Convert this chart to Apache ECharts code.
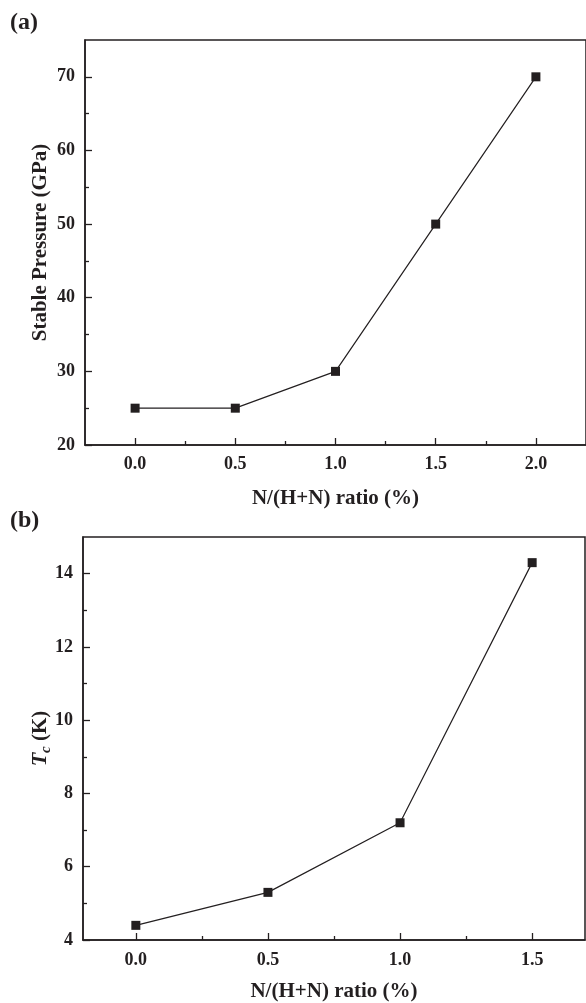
<!DOCTYPE html>
<html>
<head>
<meta charset="utf-8">
<script src="https://cdn.jsdelivr.net/npm/echarts@6/dist/echarts.min.js"></script>
<style>
html,body{margin:0;padding:0;background:#fff;}
#c{width:586px;height:1003px;}
</style>
</head>
<body>
<div id="c"></div>
<script>
// Panel (a) data
const ratioA = [0.0, 0.5, 1.0, 1.5, 2.0];
const pressureA = [25, 25, 30, 50, 70];
// Panel (b) data
const ratioB = [0.0, 0.5, 1.0, 1.5];
const tcB = [4.4, 5.3, 7.2, 14.3];

// Tick values
const xTicksA = [0.0, 0.5, 1.0, 1.5, 2.0];
const xMinorA = [0.25, 0.75, 1.25, 1.75];
const yTicksA = [20, 30, 40, 50, 60, 70];
const yMinorA = [25, 35, 45, 55, 65];
const xTicksB = [0.0, 0.5, 1.0, 1.5];
const xMinorB = [0.25, 0.75, 1.25];
const yTicksB = [4, 6, 8, 10, 12, 14];
const yMinorB = [5, 7, 9, 11, 13];

const INK = '#231f20';
const FONT = '"Liberation Serif", "Times New Roman", serif';

const chart = echarts.init(document.getElementById('c'), null, {renderer: 'canvas'});

function majorAxis(opts) {
  return Object.assign({
    type: 'value',
    axisLine: {show: true, onZero: false, lineStyle: {color: INK, width: 1.5}},
    splitLine: {show: false},
    nameLocation: 'middle',
    nameMoveOverlap: false,
    nameTextStyle: {color: INK, fontFamily: FONT, fontWeight: 'bold', fontSize: 21}
  }, opts);
}
function minorAxis(opts) {
  return Object.assign({
    type: 'value',
    axisLine: {show: false, onZero: false},
    axisLabel: {show: false},
    splitLine: {show: false}
  }, opts);
}
function ticks(vals, len) {
  return {show: true, inside: true, length: len, customValues: vals, lineStyle: {color: INK, width: 1.3}};
}
function labels(vals, margin, fmt) {
  const o = {color: INK, fontFamily: FONT, fontWeight: 'bold', fontSize: 18, margin: margin, customValues: vals};
  if (fmt) o.formatter = fmt;
  return o;
}

const option = {
  animation: false,
  backgroundColor: '#fff',
  grid: [
    {left: 85, top: 40, width: 502, height: 405, show: true, borderColor: INK, borderWidth: 1.5, backgroundColor: 'transparent'},
    {left: 83, top: 537, width: 502, height: 404, show: true, borderColor: INK, borderWidth: 1.5, backgroundColor: 'transparent'}
  ],
  graphic: [
    {type: 'text', left: 10, top: 11, style: {text: '(a)', font: 'bold 24px ' + FONT, fill: INK}},
    {type: 'text', left: 10, top: 509, style: {text: '(b)', font: 'bold 24px ' + FONT, fill: INK}}
  ],
  xAxis: [
    majorAxis({gridIndex: 0, min: -0.25, max: 2.25, position: 'bottom',
      name: 'N/(H+N) ratio (%)', nameGap: 43,
      axisTick: ticks(xTicksA, 7),
      axisLabel: labels(xTicksA, 10, v => v.toFixed(1))}),
    minorAxis({gridIndex: 0, min: -0.25, max: 2.25, position: 'bottom',
      axisTick: ticks(xMinorA, 4)}),
    majorAxis({gridIndex: 1, min: -0.2, max: 1.7, position: 'bottom',
      name: 'N/(H+N) ratio (%)', nameGap: 41,
      axisTick: ticks(xTicksB, 7),
      axisLabel: labels(xTicksB, 11, v => v.toFixed(1))}),
    minorAxis({gridIndex: 1, min: -0.2, max: 1.7, position: 'bottom',
      axisTick: ticks(xMinorB, 4)})
  ],
  yAxis: [
    majorAxis({gridIndex: 0, min: 20, max: 75, position: 'left',
      name: 'Stable Pressure (GPa)', nameGap: 34,
      axisTick: ticks(yTicksA, 7),
      axisLabel: labels(yTicksA, 10)}),
    minorAxis({gridIndex: 0, min: 20, max: 75, position: 'left',
      axisTick: ticks(yMinorA, 4)}),
    majorAxis({gridIndex: 1, min: 4, max: 15, position: 'left',
      name: '{t|T}{c|c}{k| (K)}', nameGap: 32,
      nameTextStyle: {color: INK, fontFamily: FONT, fontWeight: 'bold', fontSize: 21,
        rich: {
          t: {fontFamily: FONT, fontWeight: 'bold', fontStyle: 'italic', fontSize: 22, color: INK, verticalAlign: 'bottom'},
          c: {fontFamily: FONT, fontWeight: 'bold', fontStyle: 'italic', fontSize: 15, color: INK, verticalAlign: 'bottom', padding: [0, 0, -3, 0]},
          k: {fontFamily: FONT, fontWeight: 'bold', fontSize: 21, color: INK, verticalAlign: 'bottom'}
        }},
      axisTick: ticks(yTicksB, 7),
      axisLabel: labels(yTicksB, 10)}),
    minorAxis({gridIndex: 1, min: 4, max: 15, position: 'left',
      axisTick: ticks(yMinorB, 4)})
  ],
  series: [
    {type: 'line', xAxisIndex: 0, yAxisIndex: 0,
      data: ratioA.map((x, i) => [x, pressureA[i]]),
      symbol: 'rect', symbolSize: 9,
      itemStyle: {color: INK}, lineStyle: {color: INK, width: 1.2}, z: 5},
    {type: 'line', xAxisIndex: 2, yAxisIndex: 2,
      data: ratioB.map((x, i) => [x, tcB[i]]),
      symbol: 'rect', symbolSize: 9,
      itemStyle: {color: INK}, lineStyle: {color: INK, width: 1.2}, z: 5}
  ]
};
chart.setOption(option);
</script>
</body>
</html>
